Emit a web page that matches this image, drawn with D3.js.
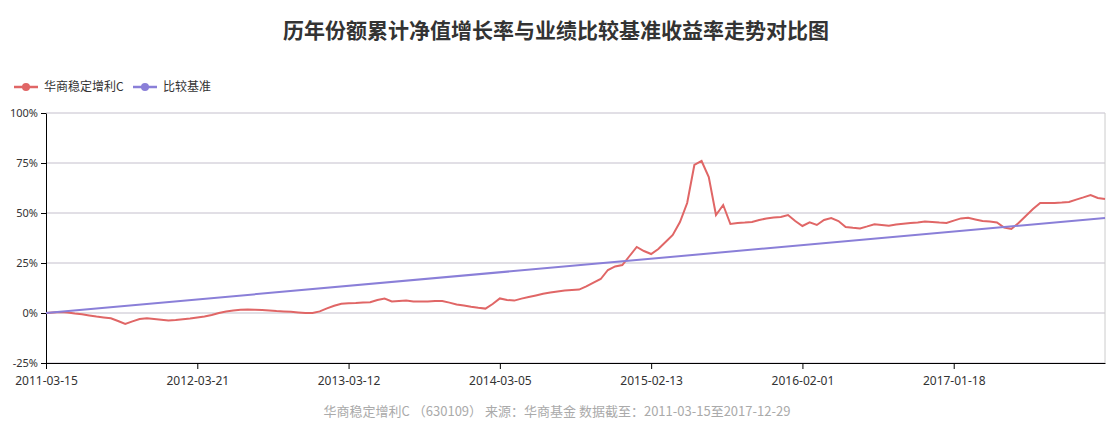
<!DOCTYPE html>
<html><head><meta charset="utf-8">
<script src="https://cdn.jsdelivr.net/npm/d3@7"></script>
<style>body{margin:0;background:#fff;font-family:"Noto Sans CJK SC","Noto Sans",sans-serif}</style>
</head><body><svg id="c" width="1117" height="429"></svg>
<script>
const fundName = "华商稳定增利C";
const benchName = "比较基准";
const tickLabels = ["2011-03-15","2012-03-21","2013-03-12","2014-03-05","2015-02-13","2016-02-01","2017-01-18"];
const tickIndex = [0,21,42,63,84,105,126];
const yTicks = [-25,0,25,50,75,100];
const fundValues = [0,0.3,0.5,0.2,-0.3,-0.6,-1.2,-1.8,-2.2,-2.6,-4,-5.5,-4.2,-3,-2.6,-3,-3.4,-3.8,-3.5,-3.1,
-2.8,-2.2,-1.8,-1,0,0.8,1.2,1.6,1.7,1.6,1.5,1.3,1.0,0.8,0.6,0.3,0,0,0.8,2.3,
3.6,4.6,4.9,5,5.2,5.4,6.5,7.2,5.8,6,6.2,5.8,5.7,5.8,6,6,5.2,4.3,3.7,3.1,
2.6,2.2,4.5,7.3,6.5,6.2,7.2,8,8.8,9.6,10.2,10.8,11.2,11.5,11.7,13.3,15.2,17,21.5,23.3,
24,28.5,33,31,29.5,32,35.5,39,45.5,55,74,76,68,49,54,44.5,45,45.2,45.5,46.5,
47.3,47.8,48,49,46,43.5,45.3,44,46.5,47.5,46,43,42.6,42.3,43.3,44.4,44,43.6,44.2,44.6,
45,45.3,45.7,45.5,45.2,45,46.2,47.3,47.6,46.8,46,45.8,45.3,42.7,42,45,48.5,52,55,55,
55,55.2,55.5,56.7,57.8,59,57.5,57];
const benchIndex = [0,147];
const benchValues = [0,47.5];
const footer = "华商稳定增利C （630109） 来源：华商基金 数据截至：2011-03-15至2017-12-29";

const svg = d3.select("#c");
const L=46,R=1105,T=113,B=363;
const x = d3.scaleLinear().domain([0,fundValues.length-1]).range([L,R]);
const y = d3.scaleLinear().domain([-25,100]).range([B,T]);
const red="#e06666", purple="#8a7fd8";

svg.append("text").attr("x",556).attr("y",38).attr("text-anchor","middle")
 .attr("font-size",21).attr("font-weight","bold").attr("fill","#333").text("历年份额累计净值增长率与业绩比较基准收益率走势对比图");

const leg=[[fundName,red,14],[benchName,purple,133]];
leg.forEach(([t,c,lx])=>{
  svg.append("line").attr("x1",lx).attr("x2",lx+24).attr("y1",87).attr("y2",87).attr("stroke",c).attr("stroke-width",2.5);
  svg.append("circle").attr("cx",lx+12).attr("cy",87).attr("r",4).attr("fill",c);
  svg.append("text").attr("x",lx+30).attr("y",91).attr("font-size",12).attr("fill","#333").text(t);
});

svg.append("g").selectAll("line").data(yTicks).join("line")
 .attr("x1",L).attr("x2",R).attr("y1",d=>y(d)).attr("y2",d=>y(d)).attr("stroke","#c4bfcc");
svg.append("line").attr("x1",R).attr("x2",R).attr("y1",T).attr("y2",B).attr("stroke","#ccc");

const ya = svg.append("g").attr("transform",`translate(${L},0)`)
 .call(d3.axisLeft(y).tickValues(yTicks).tickFormat(d=>d+"%").tickSize(5).tickSizeOuter(0));
ya.selectAll("text").attr("font-size",11).attr("fill","#333");
const xa = svg.append("g").attr("transform",`translate(0,${B})`)
 .call(d3.axisBottom(x).tickValues(tickIndex).tickFormat((d,i)=>tickLabels[i]).tickSize(6).tickSizeOuter(0));
xa.selectAll("text").attr("font-size",12).attr("fill","#333").attr("dy","1.1em");
[ya,xa].forEach(a=>a.attr("font-family","Noto Sans, sans-serif"));

svg.append("path").datum(fundValues).attr("fill","none").attr("stroke",red).attr("stroke-width",2)
 .attr("d",d3.line().x((d,i)=>x(i)).y(d=>y(d)));
svg.append("path").datum(benchValues).attr("fill","none").attr("stroke",purple).attr("stroke-width",2)
 .attr("d",d3.line().x((d,i)=>x(benchIndex[i])).y(d=>y(d)));

svg.append("text").attr("x",557).attr("y",416).attr("text-anchor","middle").attr("font-size",13)
 .attr("fill","#aaa").text(footer);
</script></body></html>
